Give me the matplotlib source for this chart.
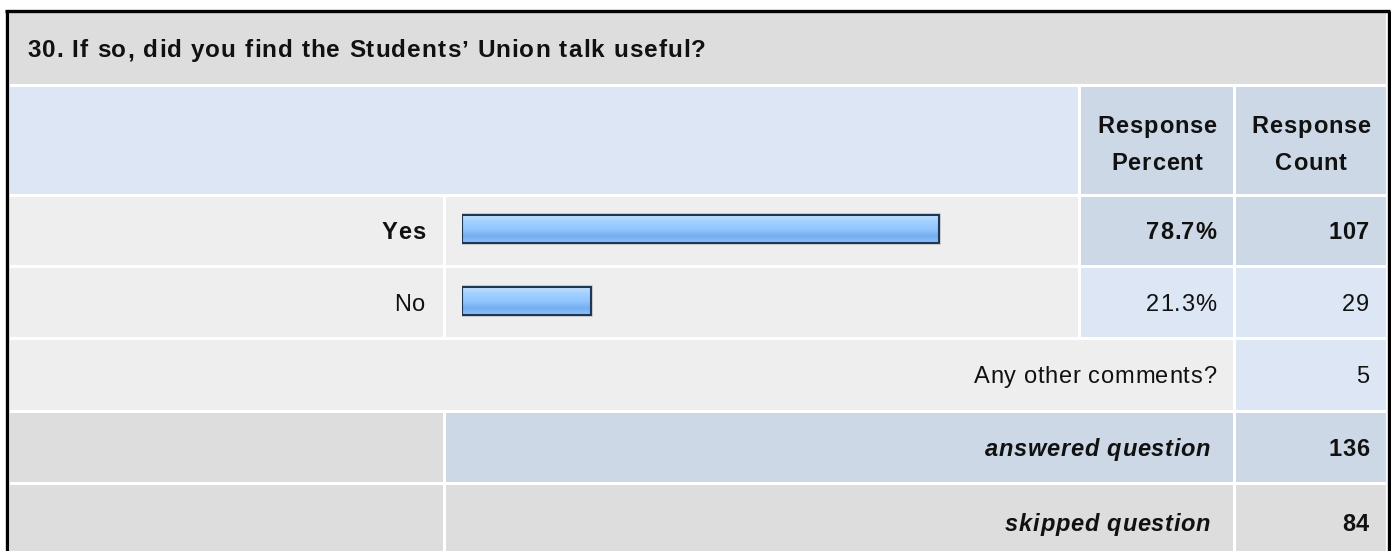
import numpy as np
import matplotlib.pyplot as plt
from matplotlib.patches import Rectangle
from matplotlib.colors import LinearSegmentedColormap
from matplotlib.font_manager import FontProperties, findfont, get_font

plt.rcParams['font.family'] = ['Liberation Sans', 'DejaVu Sans']

# Dados da pergunta
titulo = "30. If so, did you find the Students\u2019 Union talk useful?"
categorias = ['Yes', 'No']
percentuais = [78.7, 21.3]
contagens = [107, 29]
outros_comentarios = 5
respondidas = 136
puladas = 84

W, H = 1391, 551
fig = plt.figure(figsize=(W / 100, H / 100), dpi=100)
ax = fig.add_axes([0, 0, 1, 1])
ax.set_xlim(0, W)
ax.set_ylim(H, 0)
ax.axis('off')

# Cores
CINZA = '#DDDDDD'
CINZA_CLARO = '#EEEEEE'
AZUL_CLARO = '#DCE6F4'
AZUL = '#CCD8E6'
TEXTO = '#111111'

# Colunas e linhas da tabela (em pixels)
c_lab = (10, 443)
c_bar = (446, 1078)
c_pct = (1081, 1233)
c_cnt = (1236, 1386)
r_tit = (13, 84)
r_cab = (87, 194)
r_yes = (197, 265)
r_no = (268, 337)
r_out = (340, 410)
r_ans = (413, 482)
r_skp = (485, 560)


def celula(c, r, cor):
    ax.add_patch(Rectangle((c[0], r[0]), c[1] - c[0], r[1] - r[0],
                           facecolor=cor, edgecolor='none'))


def meio(r):
    return (r[0] + r[1]) / 2


def texto(x, y, s, ha='left', size=17, weight='normal', style='normal',
          esp=0.7):
    # texto com espaçamento entre letras (como no navegador)
    fp = FontProperties(family='Liberation Sans', weight=weight, style=style)
    f = get_font(findfont(fp))
    f.set_size(size, 100)
    avancos = [f.load_char(ord(ch)).linearHoriAdvance / 65536 for ch in s]
    total = sum(avancos) + esp * (len(s) - 1)
    if ha == 'right':
        xi = x - total
    elif ha == 'center':
        xi = x - total / 2
    else:
        xi = x
    base = y + 0.716 * size * 100 / 72 / 2
    for ch, a in zip(s, avancos):
        if ch != ' ':
            ax.text(xi, base, ch, ha='left', va='baseline', fontsize=size,
                    fontweight=weight, style=style, color=TEXTO,
                    family='Liberation Sans')
        xi += a + esp


# Borda externa
ax.plot([6.5, 6.5], [H, 10.5], color='black', lw=2.4, solid_capstyle='butt')
ax.plot([5.3, 1389.7], [10.5, 10.5], color='black', lw=2.4, solid_capstyle='butt')
ax.plot([1388.5, 1388.5], [10.5, H], color='black', lw=2.4, solid_capstyle='butt')

# Título
celula((c_lab[0], c_cnt[1]), r_tit, CINZA)
texto(27, meio(r_tit), titulo, size=17.5, weight='bold', esp=1.1)

# Cabeçalho
celula((c_lab[0], c_bar[1]), r_cab, AZUL_CLARO)
celula(c_pct, r_cab, AZUL)
celula(c_cnt, r_cab, AZUL)
for c, linha1, linha2 in [(c_pct, 'Response', 'Percent'),
                          (c_cnt, 'Response', 'Count')]:
    texto(meio(c), 125, linha1, ha='center', weight='bold', esp=0.9)
    texto(meio(c), 162, linha2, ha='center', weight='bold', esp=0.9)

# Linhas das respostas
linhas = [r_yes, r_no]
for i, (cat, pct, cnt) in enumerate(zip(categorias, percentuais, contagens)):
    r = linhas[i]
    peso = 'bold' if i == 0 else 'normal'
    cor_num = AZUL if i == 0 else AZUL_CLARO
    celula(c_lab, r, CINZA_CLARO)
    celula(c_bar, r, CINZA_CLARO)
    celula(c_pct, r, cor_num)
    celula(c_cnt, r, cor_num)
    texto(425, meio(r), cat, ha='right', weight=peso)
    texto(1216, meio(r), f'{pct:.1f}%', ha='right', weight=peso)
    texto(1369, meio(r), str(cnt), ha='right', weight=peso)

# Outros comentários
celula((c_lab[0], c_pct[1]), r_out, CINZA_CLARO)
celula(c_cnt, r_out, AZUL_CLARO)
texto(1216, meio(r_out), 'Any other comments?', ha='right')
texto(1369, meio(r_out), str(outros_comentarios), ha='right')

# Respondidas / puladas
celula(c_lab, r_ans, CINZA)
celula((c_bar[0], c_pct[1]), r_ans, AZUL)
celula(c_cnt, r_ans, AZUL)
celula(c_lab, r_skp, CINZA)
celula((c_bar[0], c_pct[1]), r_skp, CINZA)
celula(c_cnt, r_skp, CINZA)
for r, txt, val in [(r_ans, 'answered question', respondidas),
                    (r_skp, 'skipped question', puladas)]:
    texto(1210, meio(r), txt, ha='right', weight='bold', style='italic')
    texto(1369, meio(r), str(val), ha='right', weight='bold')

# Barras (eixo próprio: 0-100%)
x0, x100 = 462, 1068
yc0, passo = 229, 72
axb = fig.add_axes([x0 / W, 1 - (yc0 + 1.5 * passo) / H,
                    (x100 - x0) / W, 2 * passo / H])
axb.axis('off')
axb.patch.set_alpha(0)

grad = LinearSegmentedColormap.from_list('barra', [
    '#D2EAFF', '#B4DAFF', '#A3D0FF', '#9ACBFF', '#93C7FF',
    '#86BDF8', '#76ADEE', '#7DB6F4', '#8DC5FF'])
gradiente = np.linspace(0, 1, 64).reshape(-1, 1)

barras = axb.barh(range(len(categorias)), percentuais, height=0.39,
                  facecolor='none', edgecolor='#1E3658', linewidth=1.5,
                  zorder=3)
for b in barras:
    bx, by, bw, bh = b.get_x(), b.get_y(), b.get_width(), b.get_height()
    axb.add_patch(Rectangle((bx, by), bw, bh, facecolor='none',
                            edgecolor='#C8C8C8', linewidth=2.6, zorder=1))
    im = axb.imshow(gradiente, cmap=grad, aspect='auto', zorder=2,
                    extent=(bx, bx + bw, by + bh, by), interpolation='bilinear')
    im.set_clip_path(b)
axb.set_xlim(0, 100)
axb.set_ylim(1.5, -0.5)

fig.savefig('out.png', dpi=100, facecolor='white')
